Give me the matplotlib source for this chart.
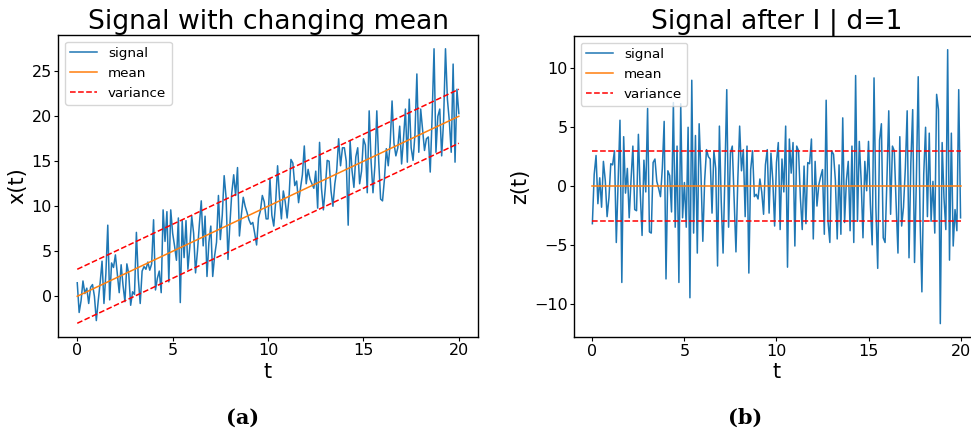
import numpy as np
import matplotlib
matplotlib.use("Agg")
from matplotlib import pyplot as plt

x_sig = [
  1.5, -1.8, -0.5, 1.7, 0.3, 0.9, -0.8, 1.0, 1.3, 0.0,
  -2.7, -0.5, 1.5, 3.9, -0.8, 2.5, 7.9, -0.4, 3.7, 3.2,
  4.6, 2.5, 0.4, 3.5, 1.2, -0.6, 3.6, 2.5, -1.0, 0.5,
  0.2, 7.1, 2.0, -0.8, 2.8, 3.3, 3.0, 3.8, 2.9, 3.6,
  8.5, 0.7, 2.0, 2.8, 0.4, 9.6, 6.1, 9.4, 1.6, 9.6,
  7.0, 5.6, 4.0, 8.7, -0.7, 8.4, 4.3, 8.4, 3.0, 5.5,
  8.9, 7.0, 2.6, 5.0, 8.0, 10.6, 5.6, 8.9, 2.2, 6.0,
  7.8, 2.2, 4.5, 6.0, 11.2, 6.3, 9.0, 13.4, 11.0, 4.1,
  8.0, 11.5, 13.5, 11.2, 14.3, 6.7, 9.0, 11.0, 10.0, 9.3,
  8.5, 8.0, 8.2, 7.0, 5.7, 8.7, 9.5, 11.2, 10.5, 8.6,
  8.6, 13.1, 9.0, 7.8, 10.5, 14.5, 11.0, 8.6, 11.7, 10.5,
  8.7, 11.0, 15.2, 14.8, 12.3, 12.8, 10.4, 12.0, 13.5, 16.7,
  12.5, 14.1, 13.0, 12.5, 12.0, 13.9, 9.8, 17.1, 12.0, 9.6,
  12.0, 15.1, 15.0, 11.7, 10.0, 12.5, 14.0, 17.5, 14.5, 16.5,
  16.5, 15.0, 7.9, 17.3, 14.0, 12.1, 15.5, 16.5, 12.5, 13.9,
  17.5, 16.8, 11.5, 20.6, 15.0, 11.5, 14.5, 20.6, 15.0, 10.8,
  10.6, 13.0, 16.4, 14.5, 17.0, 21.7, 17.0, 15.6, 16.5, 18.9,
  14.7, 17.5, 20.8, 14.9, 21.9, 16.5, 15.1, 18.0, 24.7, 16.0,
  20.8, 18.5, 16.2, 17.5, 17.7, 13.8, 20.0, 27.5, 16.0, 20.0,
  20.8, 15.6, 19.5, 27.5, 21.9, 19.5, 16.0, 25.8, 14.9, 23.0,
  20.3,
]

# signal after differencing, z(t)
z_sig = [
  -3.2, 1.0, 2.6, -1.5, 0.7, -1.8, 2.1, 0.5, -2.6, -1.0,
  1.9, 1.8, 3.0, -4.8, 0.5, 5.6, -8.2, 4.2, -0.6, 1.5,
  -2.7, 0.5, 3.4, -2.0, -2.1, 4.4, -0.5, -4.2, 2.2, -0.5,
  6.6, -3.9, -4.0, 2.0, 2.3, 0.4, -0.2, -0.9, 1.5, 5.5,
  -7.9, 1.3, 0.9, -2.2, 7.1, -3.5, 3.4, -8.2, 7.0, -2.7,
  0.3, -3.5, 5.0, -9.5, 9.0, -4.0, 4.3, -5.7, 5.3, 1.0,
  -4.7, 0.5, 3.1, 2.5, 2.3, -2.3, 3.0, 1.5, -6.8, 5.1,
  -1.3, -5.7, 1.0, 8.2, -3.5, 2.8, 3.4, -1.0, -5.6, 0.5,
  5.1, 1.3, 3.1, -2.6, 3.4, -7.4, 1.4, 3.0, -0.9, -0.7,
  -1.1, 0.6, -0.5, -2.4, 1.8, 3.1, -2.3, 2.8, 0.5, -3.4,
  2.0, 3.7, -3.7, 2.3, -0.5, 5.1, -6.9, 4.0, 1.1, 3.7,
  -5.1, 3.4, 3.0, -1.0, -3.7, 1.7, -3.2, 2.0, 1.9, 4.0,
  -4.5, 2.1, -1.7, 0.1, 0.8, 1.4, -4.1, 7.3, -3.0, -4.8,
  3.0, 2.7, 0.5, -4.5, 1.8, -4.1, 5.8, -3.1, 0.5, 2.1,
  -3.8, 3.4, -4.8, 9.4, -3.0, 3.8, 0.5, -4.4, 2.1, -0.4,
  3.8, -1.5, -5.0, 9.2, -1.8, -7.0, 3.9, 5.3, -4.4, -4.8,
  0.5, 6.4, -2.4, 3.4, 3.0, -1.5, -5.7, 4.2, -3.4, -1.8,
  1.5, 6.4, -6.1, 2.0, 6.5, -6.5, 0.5, 9.3, -2.8, -9.0,
  1.0, 5.0, -2.6, 4.5, -3.0, 0.4, -4.0, 7.8, 6.5, -11.7,
  3.7, -1.0, -3.7, 11.6, -6.3, 4.5, -5.1, -2.0, -3.8, 8.2,
  -2.7,
]

t = np.arange(len(x_sig)) / 10

# straight lines: mean and +/- variance band, given by their end points
line_t = [0, 20]
mean_a = [0, 20]
mean_b = [0, 0]
var_width = 3

fig = plt.figure(figsize=(9.71, 4.32), dpi=100)
ax1 = fig.add_axes([0.0599, 0.2199, 0.4323, 0.699])
ax2 = fig.add_axes([0.5911, 0.2192, 0.4171, 0.6975])

def draw(ax, sig, mean, title, ylabel):
  ax.plot(t, sig, color='tab:blue', lw=1.1, label='signal')
  ax.plot(line_t, mean, color='tab:orange', lw=1.1, label='mean')
  ax.plot(line_t, [m + var_width for m in mean], 'r--', lw=1.1, label='variance')
  ax.plot(line_t, [m - var_width for m in mean], 'r--', lw=1.1)
  ax.set_title(title, fontsize=19.2, pad=4.3)
  ax.set_xlabel('t', fontsize=15, labelpad=2.5)
  ax.set_ylabel(ylabel, fontsize=15, labelpad=3)
  ax.set_xticks([0, 5, 10, 15, 20])
  ax.tick_params(labelsize=11.5, length=2.6, width=0.8, pad=2.0)
  for s in ax.spines.values():
    s.set_linewidth(1.0)
  ax.legend(loc='upper left', fontsize=9.7)

draw(ax1, x_sig, mean_a, 'Signal with changing mean', 'x(t)')
draw(ax2, z_sig, mean_b, 'Signal after I | d=1', 'z(t)')

fig.text(0.250, 0.032, '(a)', fontsize=15, fontweight='bold',
         family='DejaVu Serif', ha='center', va='center')
fig.text(0.767, 0.032, '(b)', fontsize=15, fontweight='bold',
         family='DejaVu Serif', ha='center', va='center')

fig.savefig('out.png', dpi=100)
